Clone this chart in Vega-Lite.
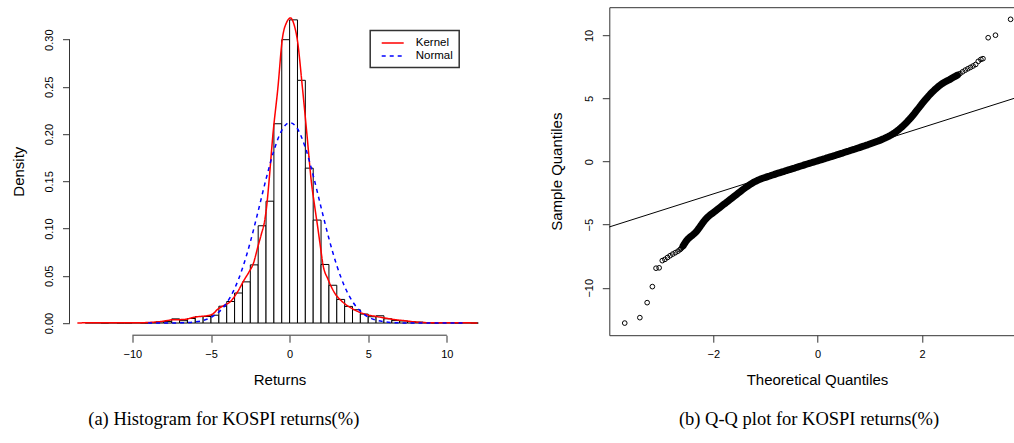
{
  "$schema": "https://vega.github.io/schema/vega-lite/v6.json",
  "background": "white",
  "padding": {"left": 11.5, "top": 7.2, "right": 0, "bottom": 0},
  "bounds": "flush",
  "spacing": 114.8,
  "datasets": {
    "bars": [
      {"start": -13, "end": -12.5, "density": 0.0004},
      {"start": -12.5, "end": -12, "density": 0.0004},
      {"start": -12, "end": -11.5, "density": 0},
      {"start": -11.5, "end": -11, "density": 0.0004},
      {"start": -11, "end": -10.5, "density": 0},
      {"start": -10.5, "end": -10, "density": 0},
      {"start": -10, "end": -9.5, "density": 0.0004},
      {"start": -9.5, "end": -9, "density": 0},
      {"start": -9, "end": -8.5, "density": 0.0004},
      {"start": -8.5, "end": -8, "density": 0.0013},
      {"start": -8, "end": -7.5, "density": 0.0017},
      {"start": -7.5, "end": -7, "density": 0.0044},
      {"start": -7, "end": -6.5, "density": 0.0025},
      {"start": -6.5, "end": -6, "density": 0.0048},
      {"start": -6, "end": -5.5, "density": 0.0069},
      {"start": -5.5, "end": -5, "density": 0.0069},
      {"start": -5, "end": -4.5, "density": 0.0083},
      {"start": -4.5, "end": -4, "density": 0.0178},
      {"start": -4, "end": -3.5, "density": 0.0228},
      {"start": -3.5, "end": -3, "density": 0.0318},
      {"start": -3, "end": -2.5, "density": 0.0436},
      {"start": -2.5, "end": -2, "density": 0.0616},
      {"start": -2, "end": -1.5, "density": 0.103},
      {"start": -1.5, "end": -1, "density": 0.129},
      {"start": -1, "end": -0.5, "density": 0.211},
      {"start": -0.5, "end": 0, "density": 0.300},
      {"start": 0, "end": 0.5, "density": 0.321},
      {"start": 0.5, "end": 1, "density": 0.257},
      {"start": 1, "end": 1.5, "density": 0.164},
      {"start": 1.5, "end": 2, "density": 0.109},
      {"start": 2, "end": 2.5, "density": 0.062},
      {"start": 2.5, "end": 3, "density": 0.040},
      {"start": 3, "end": 3.5, "density": 0.025},
      {"start": 3.5, "end": 4, "density": 0.0176},
      {"start": 4, "end": 4.5, "density": 0.0141},
      {"start": 4.5, "end": 5, "density": 0.0095},
      {"start": 5, "end": 5.5, "density": 0.0067},
      {"start": 5.5, "end": 6, "density": 0.0077},
      {"start": 6, "end": 6.5, "density": 0.0045},
      {"start": 6.5, "end": 7, "density": 0.0026},
      {"start": 7, "end": 7.5, "density": 0.0022},
      {"start": 7.5, "end": 8, "density": 0.0015},
      {"start": 8, "end": 8.5, "density": 0.0010},
      {"start": 8.5, "end": 9, "density": 0.0004},
      {"start": 9, "end": 9.5, "density": 0},
      {"start": 9.5, "end": 10, "density": 0.0004},
      {"start": 10, "end": 10.5, "density": 0.0004},
      {"start": 10.5, "end": 11, "density": 0},
      {"start": 11, "end": 11.5, "density": 0.0004},
      {"start": 11.5, "end": 12, "density": 0}
    ],
    "curves": [
      {"x": -13.5, "d": 0.0001, "series": "Kernel"},
      {"x": -12.5, "d": 0.0003, "series": "Kernel"},
      {"x": -11.5, "d": 0.0003, "series": "Kernel"},
      {"x": -10.5, "d": 0.0002, "series": "Kernel"},
      {"x": -9.8, "d": 0.0003, "series": "Kernel"},
      {"x": -9.3, "d": 0.0004, "series": "Kernel"},
      {"x": -8.8, "d": 0.0008, "series": "Kernel"},
      {"x": -8.3, "d": 0.0014, "series": "Kernel"},
      {"x": -7.8, "d": 0.0026, "series": "Kernel"},
      {"x": -7.4, "d": 0.0036, "series": "Kernel"},
      {"x": -7.0, "d": 0.0036, "series": "Kernel"},
      {"x": -6.6, "d": 0.0040, "series": "Kernel"},
      {"x": -6.2, "d": 0.0057, "series": "Kernel"},
      {"x": -5.8, "d": 0.0068, "series": "Kernel"},
      {"x": -5.3, "d": 0.0076, "series": "Kernel"},
      {"x": -4.9, "d": 0.0095, "series": "Kernel"},
      {"x": -4.56, "d": 0.0148, "series": "Kernel"},
      {"x": -4.2, "d": 0.0185, "series": "Kernel"},
      {"x": -3.81, "d": 0.022, "series": "Kernel"},
      {"x": -3.35, "d": 0.032, "series": "Kernel"},
      {"x": -2.86, "d": 0.0465, "series": "Kernel"},
      {"x": -2.55, "d": 0.055, "series": "Kernel"},
      {"x": -2.33, "d": 0.062, "series": "Kernel"},
      {"x": -2.0, "d": 0.082, "series": "Kernel"},
      {"x": -1.8, "d": 0.094, "series": "Kernel"},
      {"x": -1.59, "d": 0.108, "series": "Kernel"},
      {"x": -1.45, "d": 0.125, "series": "Kernel"},
      {"x": -1.31, "d": 0.15, "series": "Kernel"},
      {"x": -1.06, "d": 0.20, "series": "Kernel"},
      {"x": -0.74, "d": 0.25, "series": "Kernel"},
      {"x": -0.47, "d": 0.30, "series": "Kernel"},
      {"x": -0.2, "d": 0.318, "series": "Kernel"},
      {"x": 0.06, "d": 0.323, "series": "Kernel"},
      {"x": 0.3, "d": 0.315, "series": "Kernel"},
      {"x": 0.49, "d": 0.30, "series": "Kernel"},
      {"x": 0.81, "d": 0.25, "series": "Kernel"},
      {"x": 1.1, "d": 0.20, "series": "Kernel"},
      {"x": 1.38, "d": 0.15, "series": "Kernel"},
      {"x": 1.6, "d": 0.123, "series": "Kernel"},
      {"x": 1.8, "d": 0.100, "series": "Kernel"},
      {"x": 1.95, "d": 0.082, "series": "Kernel"},
      {"x": 2.12, "d": 0.062, "series": "Kernel"},
      {"x": 2.44, "d": 0.0465, "series": "Kernel"},
      {"x": 2.86, "d": 0.032, "series": "Kernel"},
      {"x": 3.39, "d": 0.022, "series": "Kernel"},
      {"x": 4.03, "d": 0.0148, "series": "Kernel"},
      {"x": 4.77, "d": 0.0095, "series": "Kernel"},
      {"x": 5.5, "d": 0.0070, "series": "Kernel"},
      {"x": 6.0, "d": 0.0055, "series": "Kernel"},
      {"x": 6.46, "d": 0.0042, "series": "Kernel"},
      {"x": 7.3, "d": 0.0025, "series": "Kernel"},
      {"x": 8.25, "d": 0.0008, "series": "Kernel"},
      {"x": 9.1, "d": 0.0003, "series": "Kernel"},
      {"x": 10.5, "d": 0.0003, "series": "Kernel"},
      {"x": 11.95, "d": 0.0001, "series": "Kernel"},
      {"x": -9, "d": 0.0, "series": "Normal"},
      {"x": -8, "d": 0.00003, "series": "Normal"},
      {"x": -7, "d": 0.0002, "series": "Normal"},
      {"x": -6.5, "d": 0.0005, "series": "Normal"},
      {"x": -6, "d": 0.0012, "series": "Normal"},
      {"x": -5.5, "d": 0.0028, "series": "Normal"},
      {"x": -5, "d": 0.0059, "series": "Normal"},
      {"x": -4.5, "d": 0.0117, "series": "Normal"},
      {"x": -4, "d": 0.0213, "series": "Normal"},
      {"x": -3.5, "d": 0.0364, "series": "Normal"},
      {"x": -3, "d": 0.0579, "series": "Normal"},
      {"x": -2.5, "d": 0.0858, "series": "Normal"},
      {"x": -2, "d": 0.1185, "series": "Normal"},
      {"x": -1.5, "d": 0.1524, "series": "Normal"},
      {"x": -1, "d": 0.1826, "series": "Normal"},
      {"x": -0.5, "d": 0.2039, "series": "Normal"},
      {"x": 0, "d": 0.2122, "series": "Normal"},
      {"x": 0.5, "d": 0.2057, "series": "Normal"},
      {"x": 1, "d": 0.1858, "series": "Normal"},
      {"x": 1.5, "d": 0.1563, "series": "Normal"},
      {"x": 2, "d": 0.1225, "series": "Normal"},
      {"x": 2.5, "d": 0.0895, "series": "Normal"},
      {"x": 3, "d": 0.0609, "series": "Normal"},
      {"x": 3.5, "d": 0.0386, "series": "Normal"},
      {"x": 4, "d": 0.0228, "series": "Normal"},
      {"x": 4.5, "d": 0.0126, "series": "Normal"},
      {"x": 5, "d": 0.0064, "series": "Normal"},
      {"x": 5.5, "d": 0.0031, "series": "Normal"},
      {"x": 6, "d": 0.0014, "series": "Normal"},
      {"x": 6.5, "d": 0.0006, "series": "Normal"},
      {"x": 7, "d": 0.0002, "series": "Normal"},
      {"x": 8, "d": 0.00003, "series": "Normal"},
      {"x": 9, "d": 0.0, "series": "Normal"},
      {"x": 10, "d": 0.0, "series": "Normal"},
      {"x": 11, "d": 0.0, "series": "Normal"}
    ],
    "laxes": [
      {"x1": -10, "x2": 10, "y1": -0.01286, "y2": -0.01286},
      {"x1": -14, "x2": -14, "y1": 0, "y2": 0.30}
    ],
    "qqline": [
      {"t": -3.996, "s": -5.18},
      {"t": 3.765, "s": 5.01}
    ],
    "qq": [
      {"t": -3.70, "s": -12.80}, {"t": -3.41, "s": -12.37}, {"t": -3.27, "s": -11.18}, {"t": -3.17, "s": -9.91},
      {"t": -3.10, "s": -8.45}, {"t": -3.04, "s": -8.42}, {"t": -2.98, "s": -7.85}, {"t": -2.93, "s": -7.75},
      {"t": -2.88, "s": -7.60}, {"t": -2.83, "s": -7.46}, {"t": -2.78, "s": -7.33}, {"t": -2.73, "s": -7.22},
      {"t": -2.68, "s": -7.10}, {"t": -2.64, "s": -6.98}, {"t": -2.62, "s": -6.90}, {"t": -2.60, "s": -6.80},
      {"t": -2.58, "s": -6.68}, {"t": -2.56, "s": -6.55}, {"t": -2.54, "s": -6.42}, {"t": -2.52, "s": -6.30},
      {"t": -2.50, "s": -6.20}, {"t": -2.48, "s": -6.10}, {"t": -2.44, "s": -5.96}, {"t": -2.40, "s": -5.83},
      {"t": -2.36, "s": -5.69}, {"t": -2.32, "s": -5.52}, {"t": -2.30, "s": -5.41}, {"t": -2.28, "s": -5.30},
      {"t": -2.26, "s": -5.18}, {"t": -2.24, "s": -5.06}, {"t": -2.22, "s": -4.95}, {"t": -2.20, "s": -4.83},
      {"t": -2.18, "s": -4.72}, {"t": -2.16, "s": -4.62}, {"t": -2.12, "s": -4.44}, {"t": -2.08, "s": -4.29},
      {"t": -2.04, "s": -4.16}, {"t": -2.00, "s": -4.04}, {"t": -1.96, "s": -3.91}, {"t": -1.92, "s": -3.78},
      {"t": -1.88, "s": -3.65}, {"t": -1.84, "s": -3.52}, {"t": -1.80, "s": -3.39}, {"t": -1.76, "s": -3.27},
      {"t": -1.72, "s": -3.14}, {"t": -1.68, "s": -3.01}, {"t": -1.64, "s": -2.88}, {"t": -1.60, "s": -2.75},
      {"t": -1.56, "s": -2.62}, {"t": -1.52, "s": -2.49}, {"t": -1.48, "s": -2.36}, {"t": -1.44, "s": -2.23},
      {"t": -1.40, "s": -2.11}, {"t": -1.36, "s": -1.99}, {"t": -1.32, "s": -1.88}, {"t": -1.28, "s": -1.77},
      {"t": -1.24, "s": -1.67}, {"t": -1.20, "s": -1.58}, {"t": -1.16, "s": -1.50}, {"t": -1.12, "s": -1.43},
      {"t": -1.08, "s": -1.36}, {"t": -1.04, "s": -1.30}, {"t": -1.00, "s": -1.25}, {"t": -0.96, "s": -1.19},
      {"t": -0.92, "s": -1.14}, {"t": -0.88, "s": -1.08}, {"t": -0.84, "s": -1.03}, {"t": -0.80, "s": -0.97},
      {"t": -0.76, "s": -0.92}, {"t": -0.72, "s": -0.87}, {"t": -0.68, "s": -0.82}, {"t": -0.64, "s": -0.77},
      {"t": -0.60, "s": -0.71}, {"t": -0.56, "s": -0.66}, {"t": -0.52, "s": -0.61}, {"t": -0.48, "s": -0.56},
      {"t": -0.44, "s": -0.51}, {"t": -0.40, "s": -0.45}, {"t": -0.36, "s": -0.40}, {"t": -0.32, "s": -0.35},
      {"t": -0.28, "s": -0.30}, {"t": -0.24, "s": -0.24}, {"t": -0.20, "s": -0.19}, {"t": -0.16, "s": -0.14},
      {"t": -0.12, "s": -0.09}, {"t": -0.08, "s": -0.04}, {"t": -0.04, "s": 0.01}, {"t": 0.00, "s": 0.06},
      {"t": 0.04, "s": 0.11}, {"t": 0.08, "s": 0.16}, {"t": 0.12, "s": 0.21}, {"t": 0.16, "s": 0.27},
      {"t": 0.20, "s": 0.32}, {"t": 0.24, "s": 0.37}, {"t": 0.28, "s": 0.42}, {"t": 0.32, "s": 0.47},
      {"t": 0.36, "s": 0.53}, {"t": 0.40, "s": 0.58}, {"t": 0.44, "s": 0.63}, {"t": 0.48, "s": 0.68},
      {"t": 0.52, "s": 0.74}, {"t": 0.56, "s": 0.79}, {"t": 0.60, "s": 0.84}, {"t": 0.64, "s": 0.90},
      {"t": 0.68, "s": 0.95}, {"t": 0.72, "s": 1.00}, {"t": 0.76, "s": 1.06}, {"t": 0.80, "s": 1.11},
      {"t": 0.84, "s": 1.17}, {"t": 0.88, "s": 1.22}, {"t": 0.92, "s": 1.28}, {"t": 0.96, "s": 1.33},
      {"t": 1.00, "s": 1.39}, {"t": 1.04, "s": 1.45}, {"t": 1.08, "s": 1.51}, {"t": 1.12, "s": 1.57},
      {"t": 1.16, "s": 1.63}, {"t": 1.20, "s": 1.70}, {"t": 1.24, "s": 1.77}, {"t": 1.28, "s": 1.84},
      {"t": 1.32, "s": 1.92}, {"t": 1.36, "s": 2.00}, {"t": 1.40, "s": 2.09}, {"t": 1.44, "s": 2.19},
      {"t": 1.48, "s": 2.30}, {"t": 1.52, "s": 2.42}, {"t": 1.56, "s": 2.55}, {"t": 1.60, "s": 2.69},
      {"t": 1.62, "s": 2.76}, {"t": 1.64, "s": 2.84}, {"t": 1.66, "s": 2.92}, {"t": 1.68, "s": 3.00},
      {"t": 1.70, "s": 3.08}, {"t": 1.72, "s": 3.17}, {"t": 1.74, "s": 3.26}, {"t": 1.76, "s": 3.35},
      {"t": 1.78, "s": 3.44}, {"t": 1.80, "s": 3.54}, {"t": 1.82, "s": 3.64}, {"t": 1.84, "s": 3.74},
      {"t": 1.86, "s": 3.84}, {"t": 1.88, "s": 3.95}, {"t": 1.90, "s": 4.05}, {"t": 1.92, "s": 4.16},
      {"t": 1.94, "s": 4.26}, {"t": 1.96, "s": 4.37}, {"t": 1.98, "s": 4.47}, {"t": 2.00, "s": 4.58},
      {"t": 2.02, "s": 4.68}, {"t": 2.04, "s": 4.78}, {"t": 2.06, "s": 4.88}, {"t": 2.08, "s": 4.98},
      {"t": 2.10, "s": 5.07}, {"t": 2.12, "s": 5.17}, {"t": 2.14, "s": 5.26}, {"t": 2.16, "s": 5.35},
      {"t": 2.18, "s": 5.43}, {"t": 2.20, "s": 5.52}, {"t": 2.24, "s": 5.68}, {"t": 2.28, "s": 5.83},
      {"t": 2.32, "s": 5.97}, {"t": 2.36, "s": 6.10}, {"t": 2.40, "s": 6.21}, {"t": 2.44, "s": 6.31},
      {"t": 2.48, "s": 6.40}, {"t": 2.53, "s": 6.50}, {"t": 2.58, "s": 6.62}, {"t": 2.63, "s": 6.74},
      {"t": 2.68, "s": 6.85}, {"t": 2.73, "s": 6.98}, {"t": 2.78, "s": 7.12}, {"t": 2.83, "s": 7.25},
      {"t": 2.88, "s": 7.36}, {"t": 2.93, "s": 7.47}, {"t": 2.98, "s": 7.58}, {"t": 3.03, "s": 7.70},
      {"t": 3.08, "s": 7.95}, {"t": 3.13, "s": 8.10}, {"t": 3.17, "s": 8.16}, {"t": 3.27, "s": 9.82},
      {"t": 3.41, "s": 10.02}, {"t": 3.70, "s": 11.28}
    ]
  },
  "hconcat": [
    {
      "width": 424.5,
      "height": 328,
      "title": {"text": "(a) Histogram for KOSPI returns(%)", "orient": "bottom", "anchor": "middle", "dx": -58, "offset": 23, "font": "Liberation Serif", "fontSize": 18.5, "fontWeight": "normal", "color": "black"},
      "layer": [
        {
          "data": {"name": "bars"},
          "mark": {"type": "rect", "fill": "white", "stroke": "black", "strokeWidth": 1},
          "encoding": {
            "x": {"field": "start", "type": "quantitative", "scale": {"domain": [-14, 13], "nice": false, "zero": false},
                  "axis": {"values": [-10, -5, 0, 5, 10], "domain": false, "title": "Returns", "titleX": 210, "titleY": 44, "titleBaseline": "middle", "labelPadding": 6, "labelFlush": false}},
            "x2": {"field": "end"},
            "y": {"field": "density", "type": "quantitative", "scale": {"domain": [-0.01286, 0.3344], "nice": false, "zero": false},
                  "axis": {"values": [0, 0.05, 0.1, 0.15, 0.2, 0.25, 0.3], "format": ".2f", "domain": false, "labelAngle": 270, "labelAlign": "center", "labelBaseline": "bottom", "labelPadding": 8, "labelFlush": false, "title": "Density", "titleX": -51, "titleY": 164, "titleBaseline": "middle", "titleAngle": 270}},
            "y2": {"datum": 0}
          }
        },
        {
          "data": {"name": "curves"},
          "mark": {"type": "line", "interpolate": "monotone", "strokeWidth": 1.5},
          "encoding": {
            "x": {"field": "x", "type": "quantitative", "scale": {"domain": [-14, 13], "nice": false, "zero": false}},
            "y": {"field": "d", "type": "quantitative", "scale": {"domain": [-0.01286, 0.3344], "nice": false, "zero": false}},
            "color": {"field": "series", "type": "nominal", "scale": {"domain": ["Kernel", "Normal"], "range": ["#ff0000", "#0000ff"]},
                      "legend": {"title": null, "orient": "none", "legendX": 300.7, "legendY": 23.3, "strokeColor": "#333333", "fillColor": "white", "padding": 6, "symbolOffset": 10, "symbolType": "M-2,0H2", "symbolSize": 121, "symbolStrokeWidth": 1.5, "labelFont": "Liberation Sans", "labelFontSize": 11.5, "labelOffset": 16.6, "rowPadding": 1, "labelColor": "black"}},
            "strokeDash": {"field": "series", "type": "nominal", "scale": {"domain": ["Kernel", "Normal"], "range": [[1, 0], [4, 4]]},
                      "legend": {"title": null, "orient": "none", "legendX": 300.7, "legendY": 23.3, "strokeColor": "#333333", "fillColor": "white", "padding": 6, "symbolOffset": 10, "symbolType": "M-2,0H2", "symbolSize": 121, "symbolStrokeWidth": 1.5, "labelFont": "Liberation Sans", "labelFontSize": 11.5, "labelOffset": 16.6, "rowPadding": 1, "labelColor": "black"}}
          }
        },
        {
          "data": {"name": "laxes"},
          "mark": {"type": "rule", "color": "#333333", "strokeWidth": 1},
          "encoding": {
            "x": {"field": "x1", "type": "quantitative", "scale": {"domain": [-14, 13], "nice": false, "zero": false}},
            "x2": {"field": "x2"},
            "y": {"field": "y1", "type": "quantitative", "scale": {"domain": [-0.01286, 0.3344], "nice": false, "zero": false}},
            "y2": {"field": "y2"}
          }
        }
      ]
    },
    {
      "width": 404.7,
      "height": 328,
      "title": {"text": "(b) Q-Q plot for KOSPI returns(%)", "orient": "bottom", "anchor": "middle", "dx": -2.6, "offset": 23, "font": "Liberation Serif", "fontSize": 18.5, "fontWeight": "normal", "color": "black"},
      "layer": [
        {
          "data": {"name": "qqline"},
          "mark": {"type": "line", "color": "black", "strokeWidth": 1},
          "encoding": {
            "x": {"field": "t", "type": "quantitative", "scale": {"domain": [-3.996, 3.765], "nice": false, "zero": false},
                  "axis": {"orient": "top", "labels": false, "ticks": false, "domain": true, "title": null}},
            "y": {"field": "s", "type": "quantitative", "scale": {"domain": [-13.76, 12.24], "nice": false, "zero": false},
                  "axis": {"values": [-10, -5, 0, 5, 10], "domain": true, "labelAngle": 270, "labelAlign": "center", "labelBaseline": "bottom", "labelPadding": 8, "labelFlush": false, "title": "Sample Quantiles", "titleX": -52.3, "titleY": 164, "titleBaseline": "middle", "titleAngle": 270}}
          }
        },
        {
          "data": {"name": "qq"},
          "transform": [{"filter": "datum.t >= -2.58 && datum.t <= 2.72"}],
          "mark": {"type": "line", "color": "black", "strokeWidth": 7, "strokeCap": "round", "strokeJoin": "round"},
          "encoding": {
            "x": {"field": "t", "type": "quantitative", "scale": {"domain": [-3.996, 3.765], "nice": false, "zero": false}, "axis": null},
            "y": {"field": "s", "type": "quantitative", "scale": {"domain": [-13.76, 12.24], "nice": false, "zero": false}}
          }
        },
        {
          "data": {"name": "qq"},
          "mark": {"type": "point", "shape": "circle", "filled": false, "stroke": "black", "strokeWidth": 1, "size": 22, "opacity": 1},
          "encoding": {
            "x": {"field": "t", "type": "quantitative", "scale": {"domain": [-3.996, 3.765], "nice": false, "zero": false},
                  "axis": {"orient": "bottom", "values": [-2, 0, 2], "domain": true, "title": "Theoretical Quantiles", "titleX": 207.7, "titleY": 44, "titleBaseline": "middle", "labelPadding": 6, "labelFlush": false}},
            "y": {"field": "s", "type": "quantitative", "scale": {"domain": [-13.76, 12.24], "nice": false, "zero": false}}
          }
        }
      ],
      "resolve": {"axis": {"x": "independent"}}
    }
  ],
  "config": {
    "view": {"stroke": null},
    "legend": {"strokeWidth": 1.5},
    "axis": {
      "grid": false,
      "labelFont": "Liberation Sans",
      "titleFont": "Liberation Sans",
      "labelFontSize": 11,
      "titleFontSize": 15,
      "titleFontWeight": "normal",
      "labelColor": "black",
      "titleColor": "black",
      "tickColor": "#333333",
      "domainColor": "#333333",
      "tickSize": 7,
      "tickWidth": 1,
      "domainWidth": 1
    }
  }
}
